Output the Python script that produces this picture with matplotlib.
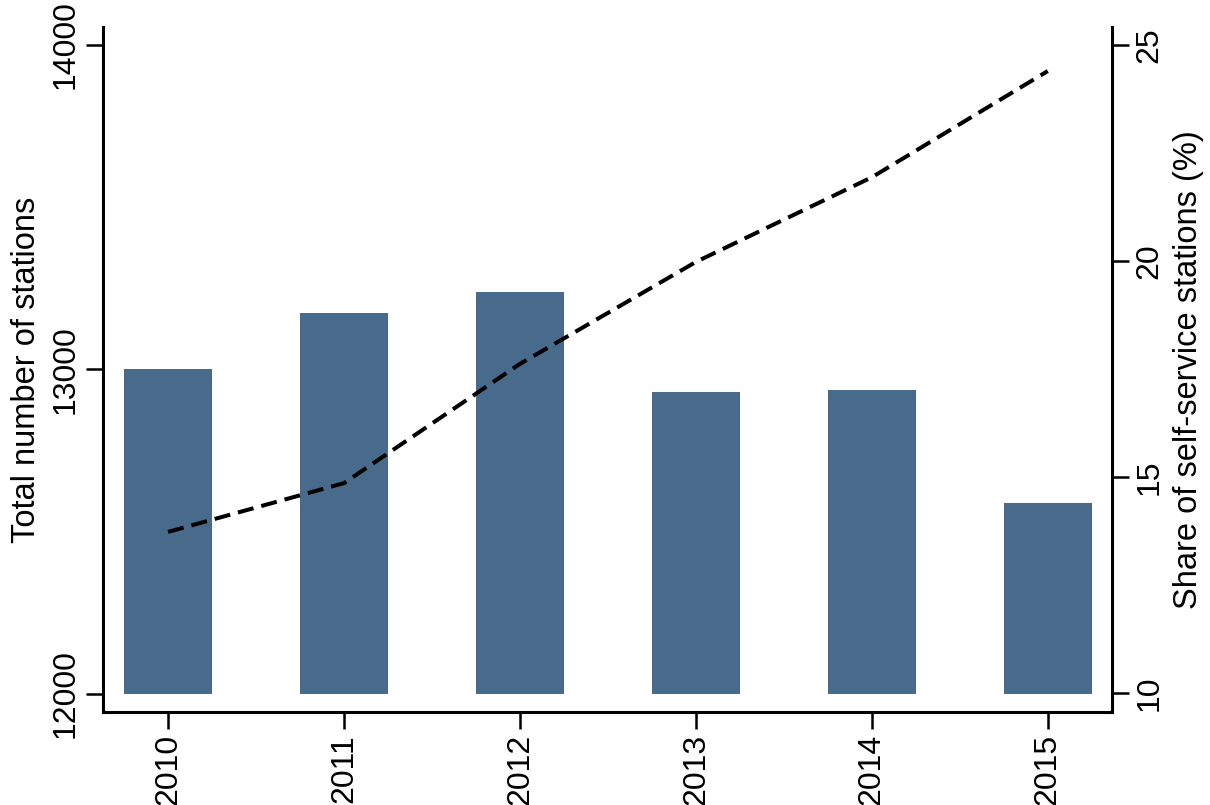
import matplotlib
matplotlib.use("Agg")
import matplotlib.pyplot as plt
import numpy as np

plt.rcParams["font.family"] = ["Liberation Sans", "DejaVu Sans"]

years = ["2010", "2011", "2012", "2013", "2014", "2015"]
total_stations = [13000, 13173, 13238, 12931, 12937, 12590]
self_service_share = [13.73, 14.86, 17.62, 19.98, 21.94, 24.4]

bar_color = "#486a8b"
x = np.arange(len(years))

fig = plt.figure(figsize=(12.1, 8.05), dpi=100)
ax = fig.add_axes([0.0851, 0.1155, 0.8339, 0.851])

ax.bar(x, np.array(total_stations) - 12000, bottom=12000, width=0.5, color=bar_color)
ax.set_ylim(11944.5, 14055.5)
ax.set_xlim(-0.37, 5.365)
ax.set_yticks([12000, 13000, 14000])
ax.set_yticklabels(["12000", "13000", "14000"], rotation=90, va="center", fontsize=23)
ax.set_xticks(x)
ax.set_xticklabels(years, rotation=90, fontsize=23)
ax.set_ylabel("Total number of stations", fontsize=23.5, labelpad=6)

ax2 = ax.twinx()
ax2.plot(x, self_service_share, color="black", linestyle=(0, (4, 2)),
         linewidth=2.9, solid_joinstyle="round", dash_joinstyle="round")
ax2.set_ylim(9.56, 25.42)
ax2.set_yticks([10, 15, 20, 25])
ax2.set_yticklabels(["10", "15", "20", "25"], rotation=90, va="center", fontsize=23)
ax2.set_ylabel("Share of self-service stations (%)", fontsize=23.5, rotation=90, labelpad=6)

for a in (ax, ax2):
    a.spines["top"].set_visible(False)
    for s in a.spines.values():
        s.set_linewidth(2.2)
    a.tick_params(axis="both", length=12, width=1.8, pad=4)
ax2.spines["left"].set_visible(False)
ax2.spines["bottom"].set_visible(False)
ax.spines["right"].set_visible(False)

fig.savefig("out.png", dpi=100)
